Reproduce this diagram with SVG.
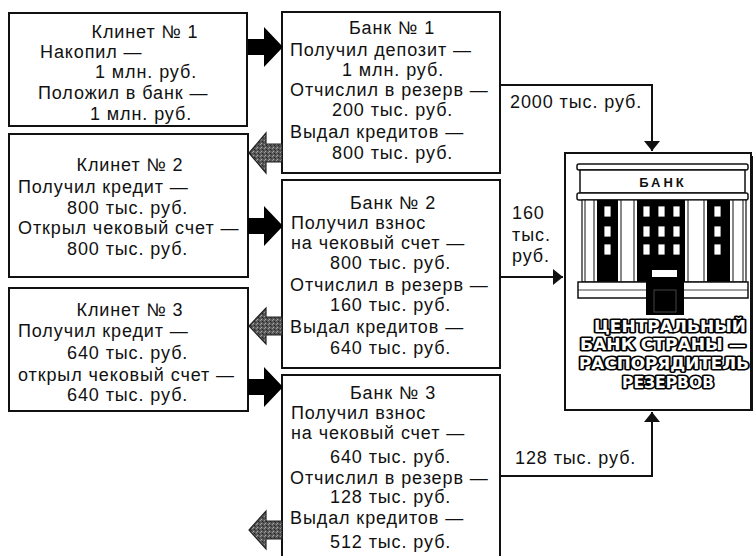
<svg xmlns="http://www.w3.org/2000/svg" width="756" height="556" viewBox="0 0 756 556">
  <defs>
    <style>
      .box { fill: #fff; stroke: #111; stroke-width: 2; }
      .t { font-family: "Liberation Sans", Arial, sans-serif; font-size: 18px; letter-spacing: 0.9px; fill: #111; }
      .c { text-anchor: middle; }
      .line { fill: none; stroke: #111; stroke-width: 2; }
      .fwd { fill: #000; }
      .back { fill: url(#grain); stroke: #222; stroke-width: 1.2; }
      .col { fill: none; stroke: #111; stroke-width: 1; }
      .cb { font-family: "DejaVu Sans Condensed", "Liberation Sans", sans-serif; font-weight: bold; font-size: 15px; fill: #fff; stroke: #000; stroke-width: 3; paint-order: stroke; stroke-linejoin: round; text-anchor: middle; }
    </style>
    <pattern id="grain" width="4" height="4" patternUnits="userSpaceOnUse">
      <rect width="4" height="4" fill="#5a5a5a"/>
      <rect x="0" y="0" width="1" height="1" fill="#999"/>
      <rect x="2" y="1" width="1" height="1" fill="#222"/>
      <rect x="1" y="3" width="1" height="1" fill="#aaa"/>
      <rect x="3" y="2" width="1" height="1" fill="#333"/>
    </pattern>
    <marker id="head" viewBox="0 0 10 16" refX="10" refY="8" markerWidth="10" markerHeight="16" markerUnits="userSpaceOnUse" orient="auto">
      <path d="M0,0 L10,8 L0,16 z" fill="#111"/>
    </marker>
  </defs>

  <rect width="756" height="556" fill="#fff"/>

  <!-- clients -->
  <g id="client1">
    <rect class="box" x="9" y="13" width="238" height="113"/>
    <text class="t c" x="145" y="38">Клинет № 1</text>
    <text class="t" x="40" y="58">Накопил —</text>
    <text class="t" x="95" y="78">1 млн. руб.</text>
    <text class="t" x="38" y="99">Положил в банк —</text>
    <text class="t" x="90" y="120">1 млн. руб.</text>
  </g>
  <g id="client2">
    <rect class="box" x="9" y="134" width="239" height="143"/>
    <text class="t c" x="130" y="171">Клинет № 2</text>
    <text class="t" x="18" y="193">Получил кредит —</text>
    <text class="t" x="67" y="214">800 тыс. руб.</text>
    <text class="t" x="18" y="234">Открыл чековый счет —</text>
    <text class="t" x="67" y="255">800 тыс. руб.</text>
  </g>
  <g id="client3">
    <rect class="box" x="9" y="288" width="239" height="123"/>
    <text class="t c" x="130" y="316">Клинет № 3</text>
    <text class="t" x="18" y="337">Получил кредит —</text>
    <text class="t" x="67" y="359">640 тыс. руб.</text>
    <text class="t" x="18" y="381">открыл чековый счет —</text>
    <text class="t" x="67" y="401">640 тыс. руб.</text>
  </g>

  <!-- commercial banks -->
  <g id="bank1">
    <rect class="box" x="282" y="12" width="218" height="161"/>
    <text class="t c" x="392" y="34">Банк № 1</text>
    <text class="t" x="290" y="56">Получил депозит —</text>
    <text class="t" x="342" y="76">1 млн. руб.</text>
    <text class="t" x="290" y="96">Отчислил в резерв —</text>
    <text class="t" x="332" y="116">200 тыс. руб.</text>
    <text class="t" x="290" y="138">Выдал кредитов —</text>
    <text class="t" x="332" y="159">800 тыс. руб.</text>
  </g>
  <g id="bank2">
    <rect class="box" x="282" y="180" width="218" height="188"/>
    <text class="t c" x="393" y="209">Банк № 2</text>
    <text class="t" x="291" y="229">Получил взнос</text>
    <text class="t" x="291" y="249">на чековый счет —</text>
    <text class="t" x="330" y="269">800 тыс. руб.</text>
    <text class="t" x="290" y="291">Отчислил в резерв —</text>
    <text class="t" x="330" y="311">160 тыс. руб.</text>
    <text class="t" x="290" y="333">Выдал кредитов —</text>
    <text class="t" x="330" y="354">640 тыс. руб.</text>
  </g>
  <g id="bank3">
    <rect class="box" x="282" y="375" width="218" height="190"/>
    <text class="t c" x="393" y="399">Банк № 3</text>
    <text class="t" x="291" y="419">Получил взнос</text>
    <text class="t" x="291" y="439">на чековый счет —</text>
    <text class="t" x="330" y="463">640 тыс. руб.</text>
    <text class="t" x="290" y="484">Отчислил в резерв —</text>
    <text class="t" x="330" y="503">128 тыс. руб.</text>
    <text class="t" x="290" y="524">Выдал кредитов —</text>
    <text class="t" x="330" y="548">512 тыс. руб.</text>
  </g>

  <!-- central bank -->
  <g id="central-bank">
    <rect class="box" x="565" y="153" width="186" height="257"/>
    <line x1="752" y1="156" x2="752" y2="411" stroke="#111" stroke-width="2"/>
    <!-- pediment with sign -->
    <rect x="577" y="164" width="171" height="6" rx="2" fill="#fff" stroke="#111" stroke-width="1.5"/>
    <rect x="580" y="170" width="165" height="23" fill="#fff" stroke="#111" stroke-width="1.5"/>
    <text x="663" y="187" font-family="Liberation Sans, Arial, sans-serif" font-weight="bold" font-size="13" letter-spacing="3" text-anchor="middle" fill="#111">БАНК</text>
    <rect x="577" y="193" width="171" height="7" rx="2" fill="#fff" stroke="#111" stroke-width="1.5"/>
    <!-- colonnade -->
    <rect x="582" y="200" width="164" height="82" fill="#fff" stroke="#111" stroke-width="1.2"/>
    <rect x="597" y="200" width="21" height="82" fill="#000"/>
    <rect x="637" y="200" width="48" height="82" fill="#000"/>
    <rect x="707" y="200" width="23" height="82" fill="#000"/>
    <path class="col" d="M585,200 V282 M594,200 V282 M621,200 V282 M634,200 V282 M688,200 V282 M704,200 V282 M733,200 V282 M743,200 V282"/>
    <g fill="#fff" stroke="#000" stroke-width="0.8">
      <rect x="604" y="206" width="7" height="11"/>
      <rect x="604" y="226" width="7" height="11"/>
      <rect x="604" y="244" width="7" height="11"/>
      <rect x="643" y="206" width="7" height="11"/>
      <rect x="658" y="206" width="7" height="11"/>
      <rect x="673" y="206" width="7" height="11"/>
      <rect x="643" y="226" width="7" height="11"/>
      <rect x="658" y="226" width="7" height="11"/>
      <rect x="673" y="226" width="7" height="11"/>
      <rect x="643" y="244" width="7" height="11"/>
      <rect x="658" y="244" width="7" height="11"/>
      <rect x="673" y="244" width="7" height="11"/>
      <rect x="714" y="206" width="7" height="11"/>
      <rect x="714" y="226" width="7" height="11"/>
      <rect x="714" y="244" width="7" height="11"/>
    </g>
    <!-- base and door -->
    <rect x="578" y="282" width="170" height="16" fill="#fff" stroke="#111" stroke-width="1.5"/>
    <line x1="578" y1="290" x2="748" y2="290" stroke="#111" stroke-width="0.8"/>
    <rect x="646" y="262" width="38" height="53" fill="#000"/>
    <rect x="652" y="270" width="25" height="7" fill="#fff"/>
    <rect x="654" y="290" width="22" height="22" fill="none" stroke="#555" stroke-width="0.8"/>
    <text class="cb" x="670" y="332" textLength="152" lengthAdjust="spacingAndGlyphs">ЦЕНТРАЛЬНЫЙ</text>
    <text class="cb" x="663" y="350" textLength="166" lengthAdjust="spacingAndGlyphs">БАНК СТРАНЫ —</text>
    <text class="cb" x="664" y="369" textLength="170" lengthAdjust="spacingAndGlyphs">РАСПОРЯДИТЕЛЬ</text>
    <text class="cb" x="668" y="388" textLength="92" lengthAdjust="spacingAndGlyphs">РЕЗЕРВОВ</text>
  </g>

  <!-- connectors -->
  <g id="connectors">
    <path class="fwd" d="M248,39 H264 V27 L283,47 L264,67 V55 H248 z"/>
    <path class="fwd" d="M248,218 H264 V206 L283,226 L264,246 V234 H248 z"/>
    <path class="fwd" d="M248,379 H264 V367 L283,387 L264,407 V395 H248 z"/>
    <path class="back" d="M282,144 H266 V133 L249,153 L266,173 V162 H282 z"/>
    <path class="back" d="M282,317 H266 V308 L249,326 L266,344 V335 H282 z"/>
    <path class="back" d="M282,521 H266 V511 L249,530 L266,549 V539 H282 z"/>

    <path class="line" d="M500,85 H652 V151" marker-end="url(#head)"/>
    <path class="line" d="M500,277 H563" marker-end="url(#head)"/>
    <path class="line" d="M500,476 H652 V412" marker-end="url(#head)"/>

    <text class="t" x="510" y="108">2000 тыс. руб.</text>
    <text class="t" x="512" y="219">160</text>
    <text class="t" x="512" y="241">тыс.</text>
    <text class="t" x="512" y="262">руб.</text>
    <text class="t" x="515" y="464">128 тыс. руб.</text>
  </g>
</svg>
